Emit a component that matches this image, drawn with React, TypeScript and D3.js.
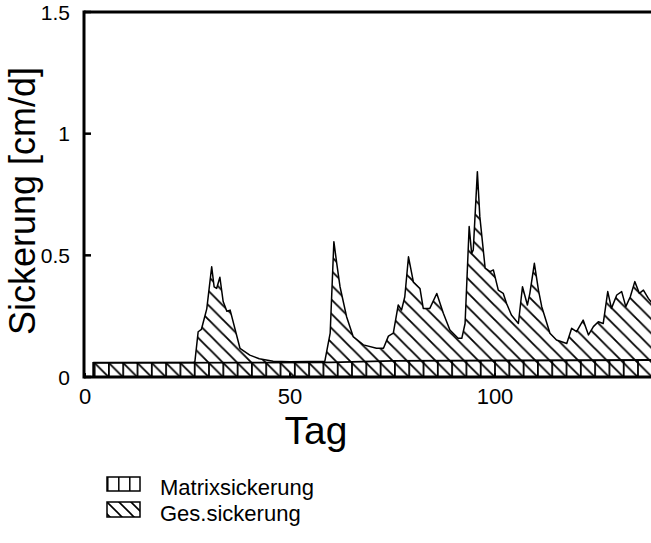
import * as d3 from 'd3'

// Ges.sickerung (Tag, cm/d)
const gesDays = [2, 26.5, 26.8, 27.6, 28.4, 29.7, 30.9, 31.5, 32.1, 32.9, 33.7, 34.6, 35.4, 37.8, 40.2, 42.5, 45.9, 50, 58.5, 59.8, 60.7, 61.4, 62.2, 63.8, 65.4, 67.9, 71.1, 72.8, 74, 75.2, 76.4, 77.2, 78, 78.9, 80.1, 81.7, 82.5, 84.1, 85.8, 87.4, 89, 91, 91.9, 92.7, 93.7, 94.3, 94.7, 95.7, 96.3, 97.6, 98.8, 99.6, 100.8, 102, 102.8, 104, 105.7, 106.7, 107.9, 108.5, 109.6, 110.6, 111.4, 113.4, 115, 117.5, 118.7, 119.9, 121.5, 122.8, 124, 125.2, 126.4, 127.5, 128.4, 129.7, 130.9, 131.9, 133, 134.1, 135.2, 136.2, 137.4, 138.5]
const gesValues = [0.06, 0.06, 0.063, 0.186, 0.196, 0.28, 0.453, 0.37, 0.364, 0.41, 0.31, 0.27, 0.275, 0.118, 0.09, 0.075, 0.065, 0.063, 0.065, 0.18, 0.556, 0.467, 0.371, 0.248, 0.166, 0.132, 0.118, 0.118, 0.168, 0.18, 0.296, 0.275, 0.33, 0.494, 0.39, 0.364, 0.282, 0.282, 0.343, 0.262, 0.193, 0.159, 0.159, 0.22, 0.618, 0.508, 0.522, 0.844, 0.659, 0.447, 0.433, 0.44, 0.357, 0.344, 0.303, 0.255, 0.22, 0.371, 0.296, 0.344, 0.467, 0.357, 0.289, 0.18, 0.152, 0.138, 0.2, 0.186, 0.234, 0.173, 0.207, 0.227, 0.22, 0.351, 0.282, 0.337, 0.351, 0.289, 0.33, 0.392, 0.344, 0.357, 0.323, 0.3]

// Matrixsickerung
const matrixDays = [2, 60, 75, 140]
const matrixValues = [0.058, 0.06, 0.066, 0.07]

const xTicks = [0, 50, 100]
const yTicks = [0, 0.5, 1, 1.5]
const yTickLabels = ['0', '0.5', '1', '1.5']

const legendItems = ['Matrixsickerung', 'Ges.sickerung']

const W = 651, H = 543
const FONT = '"Liberation Sans", Arial, Helvetica, sans-serif'
const HW = 14.3 // hatch spacing

export default function App() {
  const x = d3.scaleLinear().domain([0, 150]).range([85, 85 + 150 * 4.1])
  const y = d3.scaleLinear().domain([0, 1.5]).range([377, 12])

  const ges = gesDays.map((d, i) => [d, gesValues[i]] as [number, number])
  const matrix = matrixDays.map((d, i) => [d, matrixValues[i]] as [number, number])

  const area = d3.area<[number, number]>().x(d => x(d[0])).y0(y(0)).y1(d => y(d[1]))
  const line = d3.line<[number, number]>().x(d => x(d[0])).y(d => y(d[1]))

  const x0 = x(0), yTop = y(1.5), yBot = y(0)
  const bandTop = y(matrixValues[0])

  const diagPath = `M-1,-1L${HW + 1},${HW + 1}M${HW - 1},-1L${HW + 1},1M-1,${HW - 1}L1,${HW + 1}`

  return (
    <svg width={W} height={H} style={{ position: 'absolute', left: 0, top: 0, background: '#fff' }}>
      <defs>
        <pattern id="diag" patternUnits="userSpaceOnUse" width={HW} height={HW}
          patternTransform={`translate(${x(2) + 1.3},${bandTop})`}>
          <path d={diagPath} stroke="#000" strokeWidth={1.8} />
        </pattern>
        <pattern id="vert" patternUnits="userSpaceOnUse" width={HW} height={10}
          patternTransform={`translate(${x(2) + 0.5},0)`}>
          <path d="M0.9,0V10" stroke="#000" strokeWidth={1.8} />
        </pattern>
        <pattern id="diagLeg" patternUnits="userSpaceOnUse" width={12} height={12}
          patternTransform="translate(107,502)">
          <path d="M-1,-1L13,13M11,-1L13,1M-1,11L1,13" stroke="#000" strokeWidth={1.6} />
        </pattern>
        <pattern id="vertLeg" patternUnits="userSpaceOnUse" width={11} height={10}
          patternTransform="translate(107,0)">
          <path d="M0.8,0V10" stroke="#000" strokeWidth={1.5} />
        </pattern>
        <clipPath id="plot">
          <rect x={x0} y={yTop} width={W - x0} height={yBot - yTop} />
        </clipPath>
      </defs>

      <g clipPath="url(#plot)">
        <path d={area(ges)!} fill="url(#diag)" />
        <path d={line(ges)!} fill="none" stroke="#000" strokeWidth={1.5} strokeLinejoin="round" />
        <path d={area(matrix)!} fill="url(#vert)" stroke="#000" strokeWidth={1.8} />
      </g>

      {/* frame */}
      <line x1={x0 - 1} x2={W} y1={yTop} y2={yTop} stroke="#000" strokeWidth={3} />
      <line x1={x0 - 1} x2={x0 - 1} y1={yTop - 1.5} y2={yBot + 1.5} stroke="#000" strokeWidth={3} />
      <line x1={x0 - 1} x2={W} y1={yBot} y2={yBot} stroke="#000" strokeWidth={3} />

      {yTicks.map((t, i) => (
        <g key={t}>
          <line x1={x0} x2={x0 + 6} y1={y(t)} y2={y(t)} stroke="#000" strokeWidth={2.5} />
          <text x={70} y={y(t)} dy="0.36em" textAnchor="end" fontFamily={FONT} fontSize={21}>{yTickLabels[i]}</text>
        </g>
      ))}
      {xTicks.map(t => (
        <g key={t}>
          <line x1={x(t)} x2={x(t)} y1={yBot} y2={yBot - 4} stroke="#000" strokeWidth={2} />
          <text x={x(t)} y={404} textAnchor="middle" fontFamily={FONT} fontSize={22}>{t}</text>
        </g>
      ))}

      <text x={316} y={444} textAnchor="middle" fontFamily={FONT} fontSize={39}>Tag</text>
      <text transform={`translate(35,201) rotate(-90)`} textAnchor="middle" fontFamily={FONT} fontSize={36}>Sickerung [cm/d]</text>

      {/* legend */}
      <rect x={107} y={477} width={33} height={14} fill="url(#vertLeg)" stroke="#000" strokeWidth={1.5} />
      <rect x={107} y={502} width={33} height={15} fill="url(#diagLeg)" stroke="#000" strokeWidth={1.5} />
      {legendItems.map((l, i) => (
        <text key={l} x={160} y={495 + i * 26} fontFamily={FONT} fontSize={22}>{l}</text>
      ))}
    </svg>
  )
}
